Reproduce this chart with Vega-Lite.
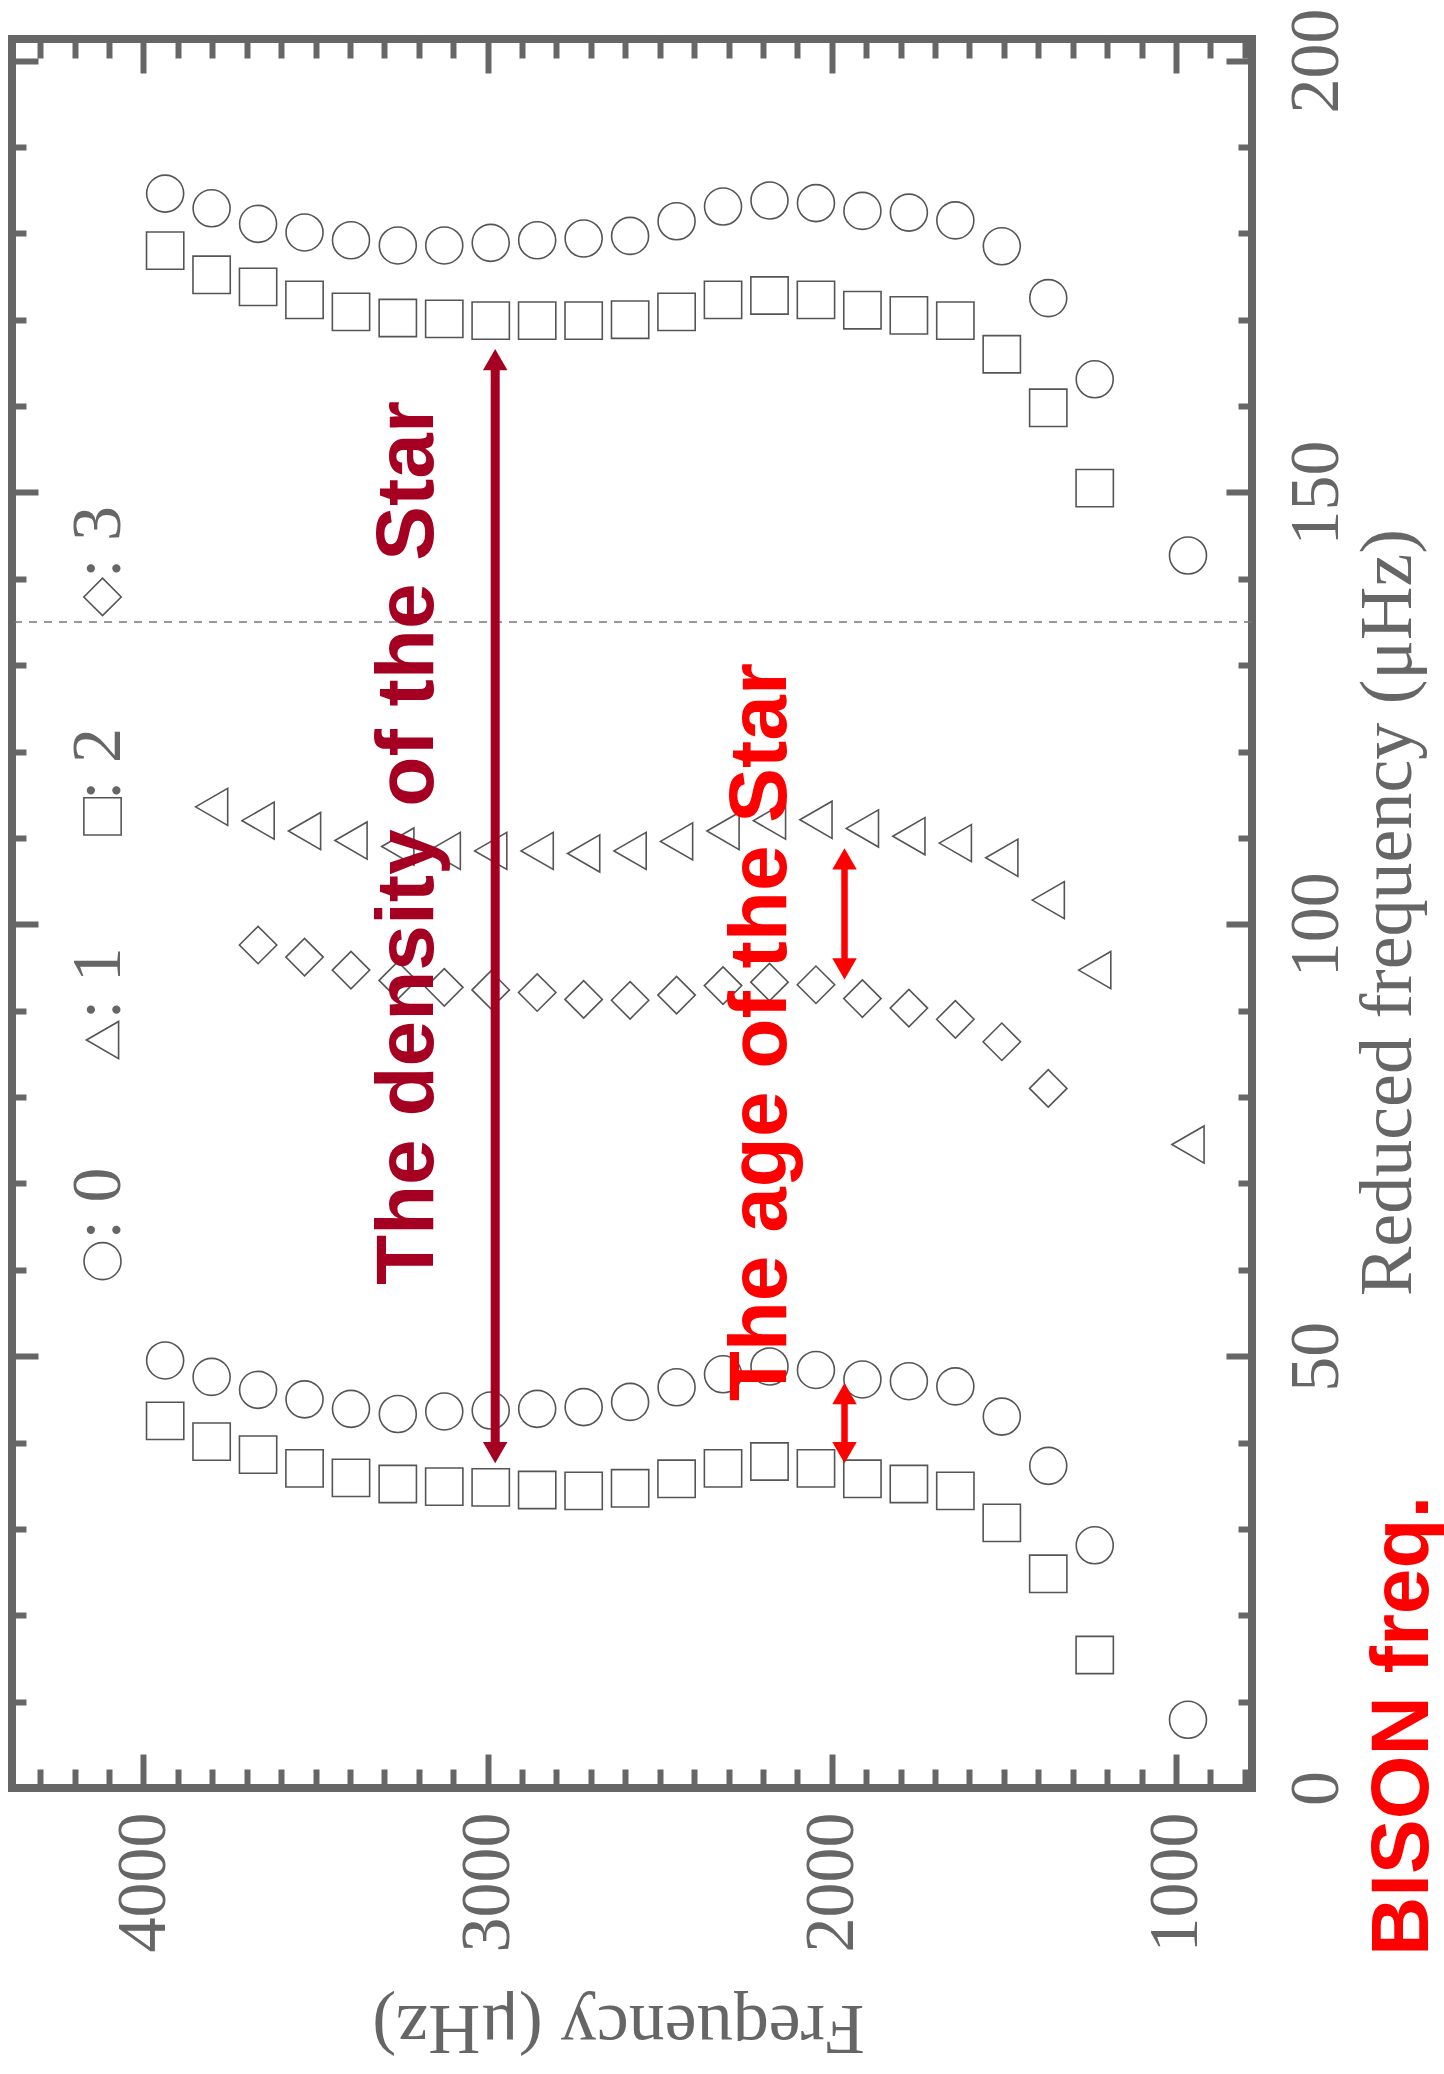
{
  "$schema": "https://vega.github.io/schema/vega-lite/v6.json",
  "width": 1240,
  "height": 1749,
  "autosize": "none",
  "padding": {"left": 12, "top": 39, "right": 192, "bottom": 286},
  "background": "white",
  "config": {"view": {"stroke": "#666666", "strokeWidth": 8}},
  "resolve": {"axis": {"x": "independent", "y": "independent"}},
  "datasets": {
    "pts": [
      {"f": 3937, "r": 184.6, "l": 0}, {"f": 3802, "r": 182.9, "l": 0}, {"f": 3667, "r": 181.1, "l": 0}, {"f": 3532, "r": 180.1, "l": 0},
      {"f": 3397, "r": 179.2, "l": 0}, {"f": 3261, "r": 178.6, "l": 0}, {"f": 3126, "r": 178.6, "l": 0}, {"f": 2991, "r": 178.9, "l": 0},
      {"f": 2856, "r": 179.2, "l": 0}, {"f": 2721, "r": 179.4, "l": 0}, {"f": 2586, "r": 179.7, "l": 0}, {"f": 2451, "r": 181.4, "l": 0},
      {"f": 2316, "r": 183.1, "l": 0}, {"f": 2181, "r": 183.8, "l": 0}, {"f": 2046, "r": 183.5, "l": 0}, {"f": 1911, "r": 182.6, "l": 0},
      {"f": 1776, "r": 182.4, "l": 0}, {"f": 1641, "r": 181.5, "l": 0}, {"f": 1506, "r": 178.5, "l": 0}, {"f": 1371, "r": 172.5, "l": 0},
      {"f": 1236, "r": 163.1, "l": 0}, {"f": 965, "r": 142.7, "l": 0},
      {"f": 3937, "r": 49.5, "l": 0}, {"f": 3802, "r": 47.6, "l": 0}, {"f": 3667, "r": 46.1, "l": 0}, {"f": 3532, "r": 45.0, "l": 0},
      {"f": 3397, "r": 43.9, "l": 0}, {"f": 3261, "r": 43.3, "l": 0}, {"f": 3126, "r": 43.6, "l": 0}, {"f": 2991, "r": 43.7, "l": 0},
      {"f": 2856, "r": 43.9, "l": 0}, {"f": 2721, "r": 44.1, "l": 0}, {"f": 2586, "r": 44.7, "l": 0}, {"f": 2451, "r": 46.4, "l": 0},
      {"f": 2316, "r": 47.9, "l": 0}, {"f": 2181, "r": 48.8, "l": 0}, {"f": 2046, "r": 48.4, "l": 0}, {"f": 1911, "r": 47.3, "l": 0},
      {"f": 1776, "r": 47.1, "l": 0}, {"f": 1641, "r": 46.5, "l": 0}, {"f": 1506, "r": 43.0, "l": 0}, {"f": 1371, "r": 37.3, "l": 0},
      {"f": 1236, "r": 28.1, "l": 0}, {"f": 965, "r": 7.9, "l": 0},
      {"f": 3937, "r": 178.0, "l": 2}, {"f": 3802, "r": 175.2, "l": 2}, {"f": 3667, "r": 173.8, "l": 2}, {"f": 3532, "r": 172.3, "l": 2},
      {"f": 3397, "r": 170.9, "l": 2}, {"f": 3261, "r": 170.2, "l": 2}, {"f": 3126, "r": 170.1, "l": 2}, {"f": 2991, "r": 169.9, "l": 2},
      {"f": 2856, "r": 169.9, "l": 2}, {"f": 2721, "r": 169.9, "l": 2}, {"f": 2586, "r": 170.0, "l": 2}, {"f": 2451, "r": 170.9, "l": 2},
      {"f": 2316, "r": 172.3, "l": 2}, {"f": 2181, "r": 172.8, "l": 2}, {"f": 2046, "r": 172.3, "l": 2}, {"f": 1911, "r": 171.1, "l": 2},
      {"f": 1776, "r": 170.5, "l": 2}, {"f": 1641, "r": 169.9, "l": 2}, {"f": 1506, "r": 166.0, "l": 2}, {"f": 1371, "r": 159.8, "l": 2},
      {"f": 1236, "r": 150.5, "l": 2},
      {"f": 3937, "r": 42.5, "l": 2}, {"f": 3802, "r": 40.1, "l": 2}, {"f": 3667, "r": 38.6, "l": 2}, {"f": 3532, "r": 37.0, "l": 2},
      {"f": 3397, "r": 35.9, "l": 2}, {"f": 3261, "r": 35.2, "l": 2}, {"f": 3126, "r": 34.9, "l": 2}, {"f": 2991, "r": 34.8, "l": 2},
      {"f": 2856, "r": 34.5, "l": 2}, {"f": 2721, "r": 34.4, "l": 2}, {"f": 2586, "r": 34.7, "l": 2}, {"f": 2451, "r": 35.8, "l": 2},
      {"f": 2316, "r": 37.0, "l": 2}, {"f": 2181, "r": 37.8, "l": 2}, {"f": 2046, "r": 37.0, "l": 2}, {"f": 1911, "r": 35.8, "l": 2},
      {"f": 1776, "r": 35.2, "l": 2}, {"f": 1641, "r": 34.4, "l": 2}, {"f": 1506, "r": 30.7, "l": 2}, {"f": 1371, "r": 24.8, "l": 2},
      {"f": 1236, "r": 15.4, "l": 2},
      {"f": 3802, "r": 113.6, "l": 1}, {"f": 3667, "r": 112.0, "l": 1}, {"f": 3532, "r": 110.8, "l": 1}, {"f": 3397, "r": 109.7, "l": 1},
      {"f": 3261, "r": 109.0, "l": 1}, {"f": 3126, "r": 108.5, "l": 1}, {"f": 2991, "r": 108.5, "l": 1}, {"f": 2856, "r": 108.5, "l": 1},
      {"f": 2721, "r": 108.2, "l": 1}, {"f": 2586, "r": 108.5, "l": 1}, {"f": 2451, "r": 109.6, "l": 1}, {"f": 2316, "r": 110.8, "l": 1},
      {"f": 2181, "r": 112.0, "l": 1}, {"f": 2046, "r": 112.1, "l": 1}, {"f": 1911, "r": 111.1, "l": 1}, {"f": 1776, "r": 110.2, "l": 1},
      {"f": 1641, "r": 109.4, "l": 1}, {"f": 1506, "r": 107.7, "l": 1}, {"f": 1371, "r": 102.8, "l": 1}, {"f": 1236, "r": 94.7, "l": 1},
      {"f": 965, "r": 74.5, "l": 1},
      {"f": 3667, "r": 97.6, "l": 3}, {"f": 3532, "r": 96.2, "l": 3}, {"f": 3397, "r": 94.7, "l": 3}, {"f": 3261, "r": 93.5, "l": 3},
      {"f": 3126, "r": 92.7, "l": 3}, {"f": 2991, "r": 92.4, "l": 3}, {"f": 2856, "r": 92.1, "l": 3}, {"f": 2721, "r": 91.3, "l": 3},
      {"f": 2586, "r": 91.2, "l": 3}, {"f": 2451, "r": 91.8, "l": 3}, {"f": 2316, "r": 92.9, "l": 3}, {"f": 2181, "r": 93.3, "l": 3},
      {"f": 2046, "r": 93.0, "l": 3}, {"f": 1911, "r": 91.4, "l": 3}, {"f": 1776, "r": 90.3, "l": 3}, {"f": 1641, "r": 89.0, "l": 3},
      {"f": 1506, "r": 86.4, "l": 3}, {"f": 1371, "r": 81.0, "l": 3}
    ],
    "legsym": [
      {"f": 4119, "r": 61.0, "l": 0}, {"f": 4119, "r": 86.6, "l": 1}, {"f": 4119, "r": 112.5, "l": 2}, {"f": 4119, "r": 137.9, "l": 3}
    ],
    "legtxt": [
      {"f": 4068, "r": 63.5, "t": ": 0"}, {"f": 4068, "r": 89.0, "t": ": 1"}, {"f": 4068, "r": 114.4, "t": ": 2"}, {"f": 4068, "r": 140.1, "t": ": 3"}
    ],
    "arrows": [
      {"f": 2978, "top": 166.6, "bot": 37.6, "k": "d"},
      {"f": 1963, "top": 108.8, "bot": 93.6, "k": "a"},
      {"f": 1963, "top": 46.9, "bot": 37.6, "k": "a"}
    ],
    "notes": [
      {"t": "The density of the Star", "f": 3158, "r": 109.4, "k": "d"},
      {"t": "The age of the Star", "f": 2134, "r": 87.5, "k": "a"},
      {"t": "BISON freq.", "f": 267, "r": 7.2, "k": "a"}
    ]
  },
  "layer": [
    {
      "data": {"values": [{}]},
      "mark": {"type": "rule", "strokeDash": [8, 7], "color": "#777777", "strokeWidth": 1.5},
      "encoding": {
        "y": {"datum": 135, "type": "quantitative", "scale": {"domain": [0, 202.5], "zero": false, "nice": false}, "axis": null}
      }
    },
    {
      "data": {"name": "pts"},
      "mark": {"type": "point", "filled": false, "strokeWidth": 1.6, "color": "#555555", "opacity": 1},
      "encoding": {
        "x": {"field": "f", "type": "quantitative", "scale": {"domain": [779, 4382], "reverse": true, "zero": false, "nice": false},
          "axis": {"orient": "bottom", "values": [1000, 2000, 3000, 4000], "format": "d", "ticks": false, "domain": false, "grid": false,
            "labelAngle": -90, "labelAlign": "right", "labelBaseline": "middle", "labelPadding": 24,
            "labelFont": "Liberation Serif", "labelFontSize": 70, "labelColor": "#666666", "labelFlush": false, "labelOverlap": false, "labelBound": false,
            "title": "Frequency (μHz)", "titleFont": "Liberation Serif", "titleFontSize": 72, "titleFontWeight": "normal", "titleColor": "#666666",
            "titleAngle": 180, "titleAlign": "center", "titleBaseline": "alphabetic", "titleX": 606, "titleY": 217}},
        "y": {"field": "r", "type": "quantitative", "scale": {"domain": [0, 202.5], "zero": false, "nice": false},
          "axis": {"orient": "right", "values": [0, 50, 100, 150, 200], "format": "d", "ticks": false, "domain": false, "grid": false,
            "labelAngle": -90, "labelAlign": "center", "labelBaseline": "alphabetic", "labelPadding": 85,
            "labelFont": "Liberation Serif", "labelFontSize": 70, "labelColor": "#666666", "labelFlush": false, "labelOverlap": false, "labelBound": false,
            "title": "Reduced frequency (μHz)", "titleFont": "Liberation Serif", "titleFontSize": 74, "titleFontWeight": "normal", "titleColor": "#666666",
            "titleAngle": -90, "titleAlign": "center", "titleBaseline": "alphabetic", "titleX": 158, "titleY": 873}},
        "shape": {"field": "l", "type": "nominal", "scale": {"domain": [0, 1, 2, 3], "range": ["circle", "triangle-left", "square", "diamond"]}, "legend": null},
        "size": {"field": "l", "type": "ordinal", "scale": {"domain": [0, 1, 2, 3], "range": [1369, 1400, 700, 1156]}, "legend": null}
      }
    },
    {
      "data": {"name": "legsym"},
      "mark": {"type": "point", "filled": false, "strokeWidth": 1.6, "color": "#555555", "opacity": 1},
      "encoding": {
        "x": {"field": "f", "type": "quantitative", "scale": {"domain": [779, 4382], "reverse": true, "zero": false, "nice": false},
          "axis": {"orient": "bottom", "values": [1000, 2000, 3000, 4000], "labels": false, "domain": false, "grid": false, "ticks": true,
            "tickSize": -34, "tickWidth": 6, "tickColor": "#666666", "title": null}},
        "y": {"field": "r", "type": "quantitative", "scale": {"domain": [0, 202.5], "zero": false, "nice": false},
          "axis": {"orient": "right", "values": [0, 50, 100, 150, 200], "labels": false, "domain": false, "grid": false, "ticks": true,
            "tickSize": -26, "tickWidth": 6, "tickColor": "#666666", "title": null}},
        "shape": {"field": "l", "type": "nominal", "scale": {"domain": [0, 1, 2, 3], "range": ["circle", "triangle-left", "square", "diamond"]}, "legend": null},
        "size": {"field": "l", "type": "ordinal", "scale": {"domain": [0, 1, 2, 3], "range": [1369, 1400, 700, 1156]}, "legend": null}
      }
    },
    {
      "data": {"name": "legtxt"},
      "mark": {"type": "text", "angle": 270, "align": "left", "baseline": "alphabetic", "font": "Liberation Serif", "fontSize": 70, "color": "#666666"},
      "encoding": {
        "x": {"field": "f", "type": "quantitative", "scale": {"domain": [779, 4382], "reverse": true, "zero": false, "nice": false},
          "axis": {"orient": "bottom", "values": [800, 900, 1100, 1200, 1300, 1400, 1500, 1600, 1700, 1800, 1900, 2100, 2200, 2300, 2400, 2500, 2600, 2700, 2800, 2900, 3100, 3200, 3300, 3400, 3500, 3600, 3700, 3800, 3900, 4100, 4200, 4300],
            "labels": false, "domain": false, "grid": false, "ticks": true, "tickSize": -19, "tickWidth": 6, "tickColor": "#666666", "title": null}},
        "y": {"field": "r", "type": "quantitative", "scale": {"domain": [0, 202.5], "zero": false, "nice": false},
          "axis": {"orient": "right", "values": [10, 20, 30, 40, 60, 70, 80, 90, 110, 120, 130, 140, 160, 170, 180, 190],
            "labels": false, "domain": false, "grid": false, "ticks": true, "tickSize": -14, "tickWidth": 6, "tickColor": "#666666", "title": null}},
        "text": {"field": "t", "type": "nominal"}
      }
    },
    {
      "data": {"name": "arrows"},
      "mark": {"type": "rule", "yOffset": 18, "y2Offset": -18},
      "encoding": {
        "x": {"field": "f", "type": "quantitative", "scale": {"domain": [779, 4382], "reverse": true, "zero": false, "nice": false},
          "axis": {"orient": "top", "values": [1000, 2000, 3000, 4000], "labels": false, "domain": false, "grid": false, "ticks": true,
            "tickSize": -34, "tickWidth": 6, "tickColor": "#666666", "title": null}},
        "y": {"field": "top", "type": "quantitative", "scale": {"domain": [0, 202.5], "zero": false, "nice": false},
          "axis": {"orient": "left", "values": [0, 50, 100, 150, 200], "labels": false, "domain": false, "grid": false, "ticks": true,
            "tickSize": -26, "tickWidth": 6, "tickColor": "#666666", "title": null}},
        "y2": {"field": "bot"},
        "color": {"field": "k", "type": "nominal", "scale": {"domain": ["d", "a"], "range": ["#A50021", "#FF0000"]}, "legend": null},
        "strokeWidth": {"field": "k", "type": "ordinal", "scale": {"domain": ["d", "a"], "range": [9, 6.5]}, "legend": null}
      }
    },
    {
      "data": {"name": "arrows"},
      "mark": {"type": "point", "shape": "triangle-up", "filled": true, "size": 600, "yOffset": 10.6, "opacity": 1, "strokeWidth": 0},
      "encoding": {
        "x": {"field": "f", "type": "quantitative", "scale": {"domain": [779, 4382], "reverse": true, "zero": false, "nice": false},
          "axis": {"orient": "top", "values": [800, 900, 1100, 1200, 1300, 1400, 1500, 1600, 1700, 1800, 1900, 2100, 2200, 2300, 2400, 2500, 2600, 2700, 2800, 2900, 3100, 3200, 3300, 3400, 3500, 3600, 3700, 3800, 3900, 4100, 4200, 4300],
            "labels": false, "domain": false, "grid": false, "ticks": true, "tickSize": -19, "tickWidth": 6, "tickColor": "#666666", "title": null}},
        "y": {"field": "top", "type": "quantitative", "scale": {"domain": [0, 202.5], "zero": false, "nice": false},
          "axis": {"orient": "left", "values": [10, 20, 30, 40, 60, 70, 80, 90, 110, 120, 130, 140, 160, 170, 180, 190],
            "labels": false, "domain": false, "grid": false, "ticks": true, "tickSize": -14, "tickWidth": 6, "tickColor": "#666666", "title": null}},
        "color": {"field": "k", "type": "nominal", "scale": {"domain": ["d", "a"], "range": ["#A50021", "#FF0000"]}, "legend": null}
      }
    },
    {
      "data": {"name": "arrows"},
      "mark": {"type": "point", "shape": "triangle-down", "filled": true, "size": 600, "yOffset": -10.6, "opacity": 1, "strokeWidth": 0},
      "encoding": {
        "x": {"field": "f", "type": "quantitative", "scale": {"domain": [779, 4382], "reverse": true, "zero": false, "nice": false}, "axis": null},
        "y": {"field": "bot", "type": "quantitative", "scale": {"domain": [0, 202.5], "zero": false, "nice": false}, "axis": null},
        "color": {"field": "k", "type": "nominal", "scale": {"domain": ["d", "a"], "range": ["#A50021", "#FF0000"]}, "legend": null}
      }
    },
    {
      "data": {"name": "notes"},
      "mark": {"type": "text", "angle": 270, "align": "center", "baseline": "alphabetic", "font": "Liberation Sans", "fontWeight": "bold", "fontSize": 82},
      "encoding": {
        "x": {"field": "f", "type": "quantitative", "scale": {"domain": [779, 4382], "reverse": true, "zero": false, "nice": false}, "axis": null},
        "y": {"field": "r", "type": "quantitative", "scale": {"domain": [0, 202.5], "zero": false, "nice": false}, "axis": null},
        "text": {"field": "t", "type": "nominal"},
        "color": {"field": "k", "type": "nominal", "scale": {"domain": ["d", "a"], "range": ["#A50021", "#FF0000"]}, "legend": null}
      }
    }
  ]
}
